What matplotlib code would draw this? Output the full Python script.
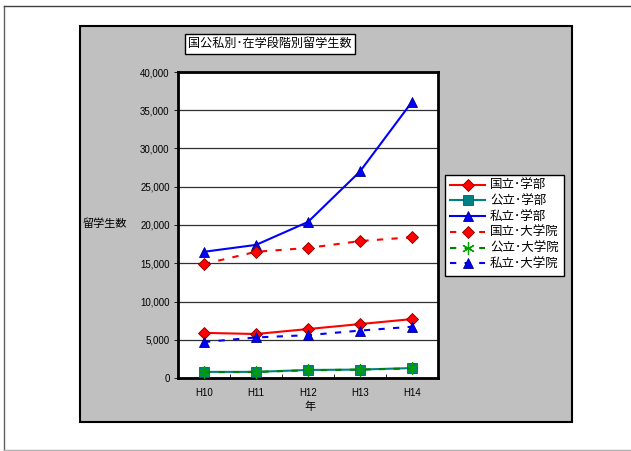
import matplotlib
matplotlib.use("Agg")
import matplotlib.pyplot as plt
from matplotlib.patches import Rectangle
from matplotlib.lines import Line2D
import numpy as np

plt.rcParams['font.family'] = ['Liberation Sans', 'Noto Sans CJK JP', 'DejaVu Sans']

years = ["H10", "H11", "H12", "H13", "H14"]
kokuritsu_gakubu = [5900, 5750, 6400, 7050, 7700]
kouritsu_gakubu = [800, 800, 1050, 1100, 1300]
shiritsu_gakubu = [16500, 17400, 20400, 27000, 36100]
kokuritsu_daigakuin = [14900, 16500, 17000, 17900, 18400]
kouritsu_daigakuin = [750, 800, 1000, 1100, 1250]
shiritsu_daigakuin = [4700, 5300, 5600, 6200, 6700]

title = "国公私別･在学段階別留学生数"
ylabel = "留学生数"
xlabel = "年"

W, H = 631, 451
fig = plt.figure(figsize=(W / 100, H / 100), dpi=100)

def fx(px):
    return px / W

def fy(py):
    return 1 - py / H

# outer border
fig.add_artist(Line2D([fx(4), fx(4)], [fy(6), fy(450)], color='#606060', lw=1))
fig.add_artist(Line2D([fx(4), 1], [fy(6), fy(6)], color='#404040', lw=1))
fig.add_artist(Line2D([fx(4), 1], [fy(450), fy(450)], color='#b0b0b0', lw=1))

# gray chart area
fig.add_artist(Rectangle((fx(80), fy(422)), fx(572) - fx(80), fy(26) - fy(422),
                         facecolor='#c0c0c0', edgecolor='black', lw=1.5, zorder=0))

ax = fig.add_axes([fx(178), fy(378), fx(438) - fx(178), fy(72) - fy(378)])
ax.set_facecolor('white')
x = np.arange(len(years))

ms = 6
ax.plot(x, kokuritsu_gakubu, color='#ff0000', lw=1.5, marker='D', ms=ms,
        mfc='#ff0000', mec='#800000', mew=0.6, label='国立･学部', zorder=3)
ax.plot(x, kouritsu_gakubu, color='#008080', lw=1.5, marker='s', ms=ms + 1,
        mfc='#008080', mec='#006060', mew=0.6, label='公立･学部', zorder=3)
ax.plot(x, shiritsu_gakubu, color='#0000ff', lw=1.5, marker='^', ms=ms + 1,
        mfc='#0000ff', mec='#000080', mew=0.6, label='私立･学部', zorder=3)
ax.plot(x, kokuritsu_daigakuin, color='#ff0000', lw=1.5, ls=(0, (3, 4)), marker='D', ms=ms,
        mfc='#ff0000', mec='#800000', mew=0.6, label='国立･大学院', zorder=3)
ax.plot(x, kouritsu_daigakuin, color='#008000', lw=1.5, ls=(0, (3, 4)), marker=(6, 2, 0), ms=ms + 3,
        mfc='#008000', mec='#00a000', mew=0.9, label='公立･大学院', zorder=4)
ax.plot(x, shiritsu_daigakuin, color='#0000ff', lw=1.5, ls=(0, (3, 4)), marker='^', ms=ms + 1,
        mfc='#0000ff', mec='#000080', mew=0.6, label='私立･大学院', zorder=3)

ax.set_xlim(-0.5, len(years) - 0.5)
ax.set_ylim(0, 40000)
ax.set_yticks(np.arange(0, 40001, 5000))
ax.set_yticklabels([f"{v:,}" for v in range(0, 40001, 5000)], fontsize=7)
ax.set_xticks(x)
ax.set_xticklabels(years, fontsize=7)
ax.tick_params(axis='x', length=0, pad=7)
ax.set_xticks(np.arange(0.5, len(years) - 1, 1), minor=True)
ax.tick_params(axis='x', which='minor', direction='in', length=3, width=0.6)
ax.tick_params(axis='y', length=3, width=0.6, direction='out', pad=3)
ax.yaxis.grid(True, color='#303030', lw=0.9)
ax.set_axisbelow(True)
for s in ax.spines.values():
    s.set_linewidth(2)
    s.set_color('black')

fig.text(fx(105), fy(224), ylabel, fontsize=8, ha='center', va='center')
fig.text(fx(310), fy(407), xlabel, fontsize=8, ha='center', va='center')
fig.text(fx(270), fy(44), title, fontsize=8.7, ha='center', va='center',
         bbox=dict(boxstyle='square,pad=0.3', facecolor='white', edgecolor='black', lw=1))

leg = fig.legend(loc='upper left', bbox_to_anchor=(fx(445), fy(175)), fontsize=9,
                 frameon=True, fancybox=False, edgecolor='black', framealpha=1,
                 handlelength=2.8, labelspacing=0.3, borderpad=0.4, handletextpad=0.4,
                 borderaxespad=0)
leg.get_frame().set_linewidth(1)

fig.savefig("out.png", dpi=100)
